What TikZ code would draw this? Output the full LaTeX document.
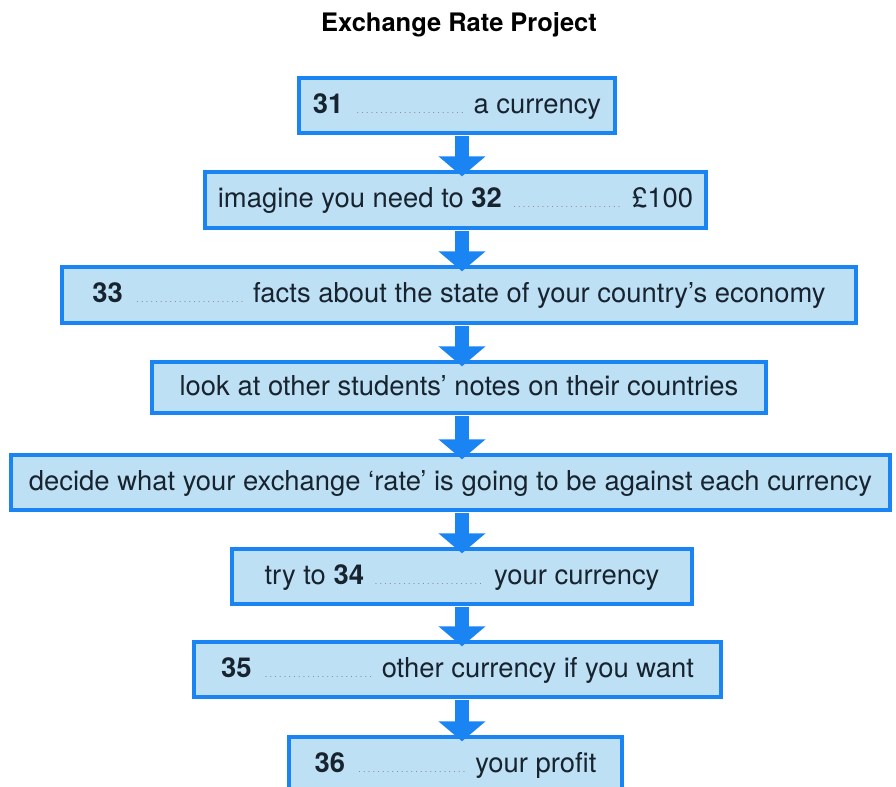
\documentclass[tikz,border=0pt]{standalone}
\usepackage{fontspec}
\setmainfont{TeX Gyre Heros}
\usetikzlibrary{arrows.meta}
\definecolor{boxblue}{HTML}{1A84F2}
\definecolor{boxfill}{HTML}{BEE0F5}
\definecolor{inktext}{HTML}{17232E}
\newcommand{\gap}{{\color{gray}\leaders\hbox to 0.95mm{\hss\tiny.\hss}\hskip 2.3cm\relax}}
\begin{document}
\begin{tikzpicture}[x=0.02cm,y=-0.02cm]
	\tikzstyle{Step} = [draw=boxblue, fill=boxfill, line width=1.9pt, inner sep=0pt, text=inktext, text height=10pt, text depth=1pt, font=\fontsize{15.6}{18}\selectfont]
	\tikzstyle{Flow} = [boxblue, line width=0.28cm, -{Triangle[width=0.92cm,length=0.4cm]}, shorten <=1pt, shorten >=-0.12cm]
	\useasboundingbox (0,0) rectangle (896,787);
	\node (title) at (459,25) [font=\bfseries\fontsize{14.5}{17}\selectfont, text=black] {Exchange Rate Project};
	\coordinate (axis) at (462,0);
	\node (s31) at (457,105.5) [Step, minimum width=6.32cm, minimum height=1.1cm] {\textbf{31} \gap\ a currency};
	\node (s32) at (455.5,200) [Step, minimum width=10.02cm, minimum height=1.12cm] {imagine you need to \textbf{32} \gap\ £100};
	\node (s33) at (459,295) [Step, minimum width=15.88cm, minimum height=1.12cm] {\textbf{33} \gap\ facts about the state of your country’s economy};
	\node (look) at (459,387.5) [Step, minimum width=12.28cm, minimum height=1.02cm] {look at other students’ notes on their countries};
	\node (rate) at (450.5,482.5) [Step, minimum width=17.58cm, minimum height=1.1cm] {decide what your exchange ‘rate’ is going to be against each currency};
	\node (s34) at (462,576.5) [Step, minimum width=9.2cm, minimum height=1.1cm] {try to \textbf{34} \gap\ your currency};
	\node (s35) at (457.5,669.5) [Step, minimum width=10.54cm, minimum height=1.1cm] {\textbf{35} \gap\ other currency if you want};
	\node (s36) at (455.5,765) [Step, minimum width=6.66cm, minimum height=1.12cm] {\textbf{36} \gap\ your profit};
	\draw [Flow] (s31.south -| axis) to (s32.north -| axis);
	\draw [Flow] (s32.south -| axis) to (s33.north -| axis);
	\draw [Flow] (s33.south -| axis) to (look.north -| axis);
	\draw [Flow] (look.south -| axis) to (rate.north -| axis);
	\draw [Flow] (rate.south -| axis) to (s34.north -| axis);
	\draw [Flow] (s34.south -| axis) to (s35.north -| axis);
	\draw [Flow] (s35.south -| axis) to (s36.north -| axis);
\end{tikzpicture}
\end{document}
